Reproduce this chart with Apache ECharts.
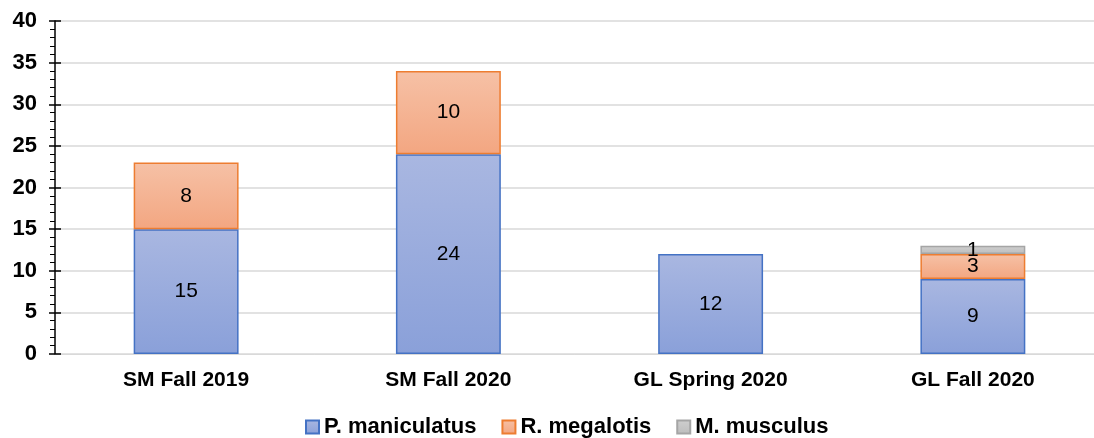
<!DOCTYPE html>
<html>
<head>
<meta charset="utf-8">
<script src="https://cdn.jsdelivr.net/npm/echarts@6/dist/echarts.min.js"></script>
<style>
  html, body { margin: 0; padding: 0; background: #fff; }
  #chart { width: 1094px; height: 438px; }
</style>
</head>
<body>
<div id="chart"></div>
<script>
const categories = ["SM Fall 2019", "SM Fall 2020", "GL Spring 2020", "GL Fall 2020"];
const maniculatus = [15, 24, 12, 9];
const megalotis = [8, 10, null, 3];
const musculus = [null, null, null, 1];
const yTicks = { min: 0, max: 40, step: 5 };

const font = "Liberation Sans, Arial, sans-serif";

function grad(top, bottom) {
  return new echarts.graphic.LinearGradient(0, 0, 0, 1, [
    { offset: 0, color: top },
    { offset: 1, color: bottom },
  ]);
}

const barLabel = {
  show: true,
  position: "inside",
  color: "#000",
  fontSize: 21,
  fontFamily: font,
};

const chart = echarts.init(document.getElementById("chart"));
chart.setOption({
  animation: false,
  // plot runs past the right edge of the window, like the source
  grid: { left: 55, width: 1049, top: 21, height: 333, outerBoundsMode: "none", containLabel: false },
  legend: {
    left: 300,
    top: 411,
    itemWidth: 13,
    itemHeight: 13,
    itemGap: 25,
    icon: "rect",
    textStyle: { fontSize: 22, fontWeight: "bold", color: "#000", fontFamily: font },
    data: ["P. maniculatus", "R. megalotis", "M. musculus"],
  },
  xAxis: {
    type: "category",
    data: categories,
    axisLine: { lineStyle: { color: "#d9d9d9", width: 1 } },
    axisTick: { show: false },
    axisLabel: { fontSize: 21, fontWeight: "bold", color: "#000", fontFamily: font, margin: 16 },
  },
  yAxis: [
    {
      type: "value",
      min: yTicks.min,
      max: yTicks.max,
      interval: yTicks.step,
      axisLine: { show: true, lineStyle: { color: "#000", width: 1.5 } },
      axisTick: { show: true, length: 6, lineStyle: { color: "#000", width: 1.5 } },
      minorTick: { show: true, splitNumber: 5, length: 5, lineStyle: { color: "#000", width: 1 } },
      splitLine: { lineStyle: { color: "#d9d9d9", width: 1.5 } },
      axisLabel: { fontSize: 22, fontWeight: "bold", color: "#000", fontFamily: font, margin: 18 },
    },
    {
      // second copy only to draw the inner half of the major ticks
      type: "value",
      position: "left",
      min: yTicks.min,
      max: yTicks.max,
      interval: yTicks.step,
      axisLine: { show: false },
      axisTick: { show: true, inside: true, length: 6, lineStyle: { color: "#000", width: 1.5 } },
      splitLine: { show: false },
      axisLabel: { show: false },
    },
  ],
  series: [
    {
      name: "P. maniculatus",
      type: "bar",
      stack: "total",
      barWidth: "40%",
      data: maniculatus,
      label: barLabel,
      itemStyle: { color: grad("#a9b7e1", "#8aa0d9"), borderColor: "#4472c4", borderWidth: 1.5 },
    },
    {
      name: "R. megalotis",
      type: "bar",
      stack: "total",
      data: megalotis,
      label: barLabel,
      itemStyle: { color: grad("#f6c1a6", "#f3a681"), borderColor: "#ed7d31", borderWidth: 1.5 },
    },
    {
      name: "M. musculus",
      type: "bar",
      stack: "total",
      data: musculus,
      label: barLabel,
      itemStyle: { color: grad("#cfcfcf", "#bdbdbd"), borderColor: "#a5a5a5", borderWidth: 1.5 },
    },
  ],
});
</script>
</body>
</html>
